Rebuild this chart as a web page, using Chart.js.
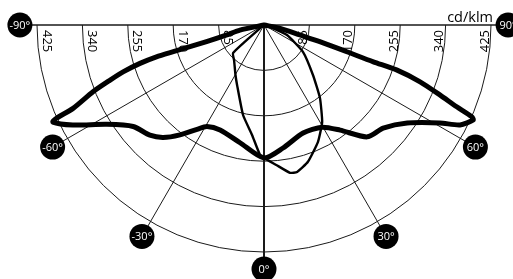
<!DOCTYPE html>
<html>
<head>
<meta charset="utf-8">
<script src="https://cdn.jsdelivr.net/npm/chart.js@4/dist/chart.umd.min.js"></script>
<style>
  html, body { margin: 0; padding: 0; background: #fff; }
  canvas { display: block; }
</style>
</head>
<body>
<canvas id="polar-chart" width="513" height="279"></canvas>
<script>
"use strict";

// polar intensity curves, angle in degrees from nadir, value in cd/klm
const thickAngles = [-90, -78, -75, -73.8, -73.6, -73.5, -72.8, -71.6, -70.3, -68.7, -66.4, -65.8, -65.3, -62.4, -57.7, -52.2, -46, -41.9, -37.4, -32.7, -29.3, -22.7, -11.5, 0, 8.8, 19.9, 29.6, 35.9, 42.7, 49.1, 55.6, 60.9, 63, 65.6, 66.2, 67, 68.3, 70, 71.3, 71.4, 72.1, 73.4, 74.5, 78.3, 90];
const thickValues = [0, 46, 72, 112, 177, 210, 243, 278, 306, 343, 390, 426, 435, 404, 348, 310, 297, 283, 259, 232, 218, 213, 225, 249, 233, 215, 220, 243, 285, 295, 325, 377, 412, 430, 425, 392, 355, 311, 262, 216, 163, 109, 70, 31, 0];

const thinAngles = [-90, -50, -47.9, -40, -30, -24.2, -13.1, -6.2, -1.8, 0, 5, 10, 12.7, 17.8, 24.8, 30.9, 37.5, 44.4, 55.3, 66.5, 71.6, 90];
const thinValues = [0, 10, 78, 87, 107, 123, 173, 207, 243, 249, 263, 281, 282, 269, 241, 212, 172, 131, 89, 47, 12, 0];

const ringValues = [85, 170, 255, 340, 425];
const spokeAngles = [-90, -60, -30, 0, 30, 60, 90];
const spokeLabels = ["-90°", "-60°", "-30°", "0°", "30°", "60°", "90°"];
const unitLabel = "cd/klm";

// layout: pole position in px and px per cd
const POLE_X = 264;
const POLE_Y = 25;
const PX_PER_UNIT = 227 / 425;
const LABEL_RADIUS = 457;
const W = 513;
const H = 279;

function toXY(angles, values) {
  return angles.map((a, i) => {
    const rad = a * Math.PI / 180;
    return { x: values[i] * Math.sin(rad), y: -values[i] * Math.cos(rad) };
  });
}

const polarGrid = {
  id: "polarGrid",
  beforeDatasetsDraw(chart) {
    const { ctx } = chart;
    const xs = chart.scales.x;
    const ys = chart.scales.y;
    const cx = xs.getPixelForValue(0);
    const cy = ys.getPixelForValue(0);
    const px = (v) => xs.getPixelForValue(v) - cx;

    ctx.save();
    ctx.strokeStyle = "#1a1a1a";
    ctx.lineWidth = 1;
    ringValues.forEach((v) => {
      ctx.beginPath();
      ctx.arc(cx, cy, px(v), 0, Math.PI);
      ctx.stroke();
    });

    const lr = px(LABEL_RADIUS);
    spokeAngles.forEach((a) => {
      const rad = a * Math.PI / 180;
      ctx.lineWidth = a === 0 ? 2 : (Math.abs(a) === 90 ? 1.3 : 1);
      ctx.beginPath();
      ctx.moveTo(cx, cy);
      ctx.lineTo(cx + lr * Math.sin(rad), cy + lr * Math.cos(rad));
      ctx.stroke();
    });

    ctx.fillStyle = "#000";
    ctx.font = "13px 'Open Sans'";
    ctx.textBaseline = "alphabetic";
    ringValues.forEach((v) => {
      const r = px(v);
      ctx.save();
      ctx.translate(cx - r + 5.5, cy + 5);
      ctx.rotate(Math.PI / 2);
      ctx.textAlign = "left";
      ctx.fillText(String(v), 0, 0);
      ctx.restore();

      ctx.save();
      ctx.translate(cx + r - 2.5, cy + 5);
      ctx.rotate(-Math.PI / 2);
      ctx.textAlign = "right";
      ctx.fillText(String(v), 0, 0);
      ctx.restore();
    });

    ctx.font = "14.5px 'Open Sans'";
    ctx.textAlign = "right";
    ctx.fillText(unitLabel, cx + px(425) + 2, cy - 3);
    ctx.restore();
  },
  afterDatasetsDraw(chart) {
    const { ctx } = chart;
    const xs = chart.scales.x;
    const ys = chart.scales.y;
    const cx = xs.getPixelForValue(0);
    const cy = ys.getPixelForValue(0);
    const lr = xs.getPixelForValue(LABEL_RADIUS) - cx;

    ctx.save();
    ctx.font = "11px 'Open Sans'";
    ctx.textAlign = "center";
    ctx.textBaseline = "middle";
    spokeAngles.forEach((a, i) => {
      const rad = a * Math.PI / 180;
      const lx = cx + lr * Math.sin(rad);
      const ly = cy + lr * Math.cos(rad);
      ctx.fillStyle = "#000";
      ctx.beginPath();
      ctx.arc(lx, ly, 12.5, 0, Math.PI * 2);
      ctx.fill();
      ctx.fillStyle = "#fff";
      ctx.fillText(spokeLabels[i], lx, ly + 0.5);
    });
    ctx.restore();
  }
};

new Chart(document.getElementById("polar-chart"), {
  type: "scatter",
  data: {
    datasets: [
      {
        label: "C90-C270",
        data: toXY(thinAngles, thinValues),
        showLine: true,
        borderColor: "#000",
        borderWidth: 2.4,
        pointRadius: 0,
        fill: false,
        tension: 0.15
      },
      {
        label: "C0-C180",
        data: toXY(thickAngles, thickValues),
        showLine: true,
        borderColor: "#000",
        borderWidth: 5,
        pointRadius: 0,
        fill: false,
        tension: 0.25
      }
    ]
  },
  options: {
    responsive: false,
    devicePixelRatio: 1,
    animation: false,
    layout: { padding: 0 },
    elements: {
      line: { borderJoinStyle: "round", borderCapStyle: "round" }
    },
    plugins: {
      legend: { display: false },
      tooltip: { enabled: false }
    },
    scales: {
      x: {
        type: "linear",
        display: false,
        min: -POLE_X / PX_PER_UNIT,
        max: (W - POLE_X) / PX_PER_UNIT
      },
      y: {
        type: "linear",
        display: false,
        min: -(H - POLE_Y) / PX_PER_UNIT,
        max: POLE_Y / PX_PER_UNIT
      }
    }
  },
  plugins: [polarGrid]
});
</script>
</body>
</html>
